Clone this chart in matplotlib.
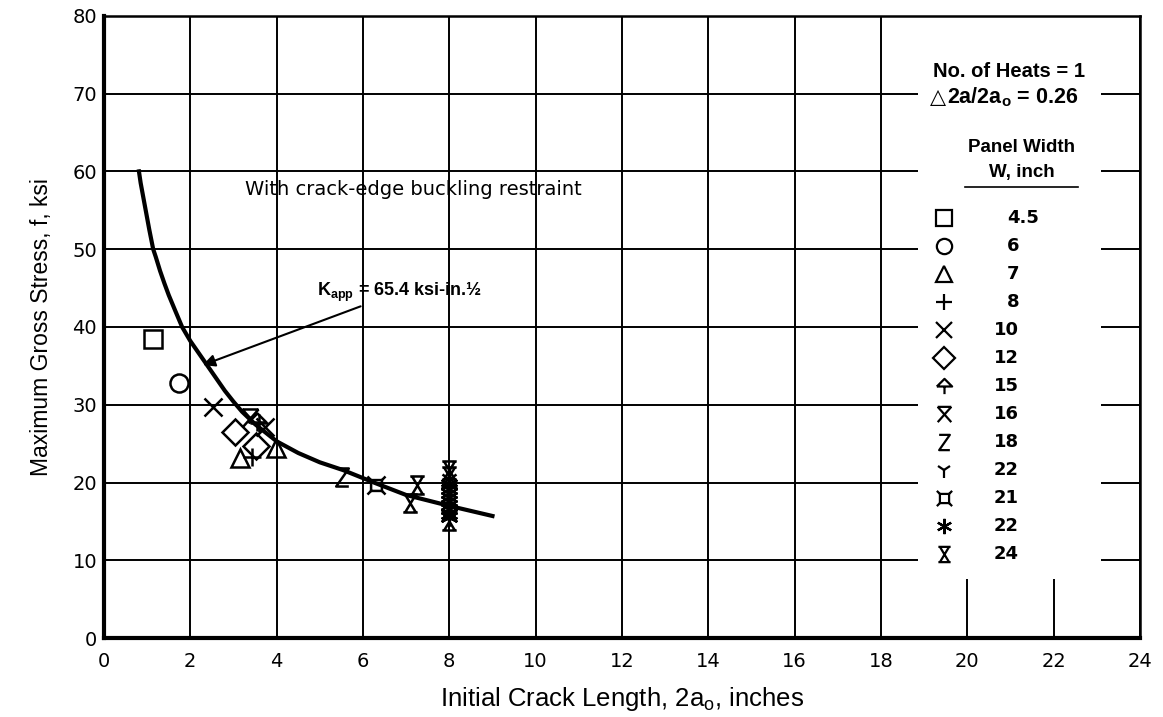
import matplotlib
matplotlib.use("Agg")
import matplotlib.pyplot as plt
from matplotlib.path import Path
from matplotlib.patches import Rectangle

plt.rcParams['font.family'] = ['Liberation Sans', 'DejaVu Sans']
plt.rcParams['mathtext.fontset'] = 'custom'
plt.rcParams['mathtext.rm'] = 'Liberation Sans'
plt.rcParams['mathtext.bf'] = 'Liberation Sans:bold'

# K_app curve
curve_x = [0.81, 0.85, 0.9, 0.95, 1.0, 1.05, 1.14, 1.2, 1.3, 1.4, 1.5, 1.65, 1.81, 2.0, 2.2,
           2.4, 2.6, 2.8, 3.0, 3.2, 3.5, 4.0, 4.5, 5.0, 5.54, 6.3, 7.0, 8.0, 9.0]
curve_y = [60, 58.5, 57, 55.5, 54, 52.5, 50, 49, 47.2, 45.6, 44.1, 42.1, 40, 38.2, 36.6,
           35, 33.4, 31.8, 30.4, 29.1, 27.5, 25.3, 23.8, 22.6, 21.6, 19.9, 18.4, 17.0, 15.7]

# test points by panel width
w45_x, w45_y = [1.13], [38.4]
w6_x, w6_y = [1.74], [32.8]
w7_x, w7_y = [3.15, 3.98], [23.2, 24.5]
w8_x, w8_y = [3.42, 3.6], [23.3, 27.6]
w10_x, w10_y = [2.52, 3.73], [29.7, 27.2]
w12_x, w12_y = [3.03, 3.52], [26.5, 24.7]
w15_x, w15_y = [3.55], [27.8]
w16_x, w16_y = [3.38], [28.3]
w18_x, w18_y = [5.51], [20.7]
w22a_x, w22a_y = [8.0], [20.4]
w21_x, w21_y = [6.3], [19.7]
w22b_x = [8.0, 8.0, 8.0, 8.0, 8.0, 8.0, 8.0, 8.0, 8.0]
w22b_y = [19.8, 19.2, 18.7, 18.2, 17.6, 17.1, 16.6, 16.0, 15.6]
w24_x, w24_y = [7.25, 7.09, 8.0, 8.0, 8.0], [19.7, 17.4, 21.6, 20.8, 15.0]

widths = ['4.5', '6', '7', '8', '10', '12', '15', '16', '18', '22', '21', '22', '24']


def mk(segs):
    verts, codes = [], []
    for s in segs:
        verts += s
        codes += [Path.MOVETO] + [Path.LINETO] * (len(s) - 1)
    return Path(verts, codes)


m15 = mk([[(-0.9, 0.0), (0, 0.9), (0.9, 0.0), (-0.9, 0.0)], [(0, 0.0), (0, -0.9)]])
m16 = mk([[(-0.8, 0.9), (0.8, 0.9)], [(-0.8, 0.9), (0.8, -0.9)], [(0.8, 0.9), (-0.8, -0.9)]])
m18 = mk([[(-0.7, 1), (0.7, 1), (-0.7, -1), (0.7, -1)]])
m21 = mk([[(-0.6, -0.6), (0.6, -0.6), (0.6, 0.6), (-0.6, 0.6), (-0.6, -0.6)],
          [(0.6, 0.6), (1, 1)], [(-0.6, 0.6), (-1, 1)],
          [(-0.6, -0.6), (-1, -1)], [(0.6, -0.6), (1, -1)]])
m24 = mk([[(-0.8, 1), (0.8, 1)], [(-0.8, -1), (0.8, -1)],
          [(-0.6, 1), (0.6, -1)], [(0.6, 1), (-0.6, -1)]])

series = [
    (w45_x, w45_y, 's'), (w6_x, w6_y, 'o'), (w7_x, w7_y, '^'), (w8_x, w8_y, '+'),
    (w10_x, w10_y, 'x'), (w12_x, w12_y, 'D'), (w15_x, w15_y, m15), (w16_x, w16_y, m16),
    (w18_x, w18_y, m18), (w22a_x, w22a_y, '1'), (w21_x, w21_y, m21),
    (w22b_x, w22b_y, (6, 2, 0)), (w24_x, w24_y, m24),
]

fig = plt.figure(figsize=(11.63, 7.17), dpi=100)
ax = fig.add_axes([0.0894, 0.110, 0.8908, 0.868])

ax.set_xlim(0, 24)
ax.set_ylim(0, 80)
ax.set_xticks(range(0, 25, 2))
ax.set_yticks(range(0, 81, 10))
ax.grid(True, color='black', lw=1.4)
ax.set_axisbelow(True)
ax.tick_params(length=0, labelsize=14, pad=5)
ax.tick_params(axis='x', pad=10)
for lab in ax.get_xticklabels() + ax.get_yticklabels():
    lab.set_fontfamily('DejaVu Sans')
for s in ['left', 'bottom']:
    ax.spines[s].set_linewidth(3)
for s in ['top', 'right']:
    ax.spines[s].set_linewidth(1.8)

# white box for the key, hides the grid behind it
ax.add_patch(Rectangle((18.86, 7.6), 4.24, 72.2, facecolor='white', edgecolor='none', zorder=1.5))

ax.plot(curve_x, curve_y, color='black', lw=3, zorder=3, solid_joinstyle='round')

for xs, ys, m in series:
    ax.plot(xs, ys, ls='none', marker=m, ms=13, mfc='none', mec='black', mew=1.8, zorder=4)

ax.text(3.27, 57.7, 'With crack-edge buckling restraint', fontsize=14, family='DejaVu Sans',
        va='center', zorder=5)
ax.annotate(r'K$_\mathbf{app}$ = 65.4 ksi-in.½', xy=(2.29, 35.1), xytext=(4.93, 44.5),
            fontsize=13, fontweight='bold', va='center', zorder=5,
            arrowprops=dict(arrowstyle='-|>', color='black', lw=1.5, mutation_scale=18,
                            shrinkA=0, shrinkB=0))

# key
ax.text(20.97, 72.8, 'No. of Heats = 1', fontsize=14.5, fontweight='bold', ha='center', va='center', zorder=5)
ax.text(19.13, 69.5, '△', fontsize=15, family='DejaVu Sans', ha='left', va='center', zorder=5)
ax.text(19.52, 69.5, r'2a/2a$_\mathbf{o}$ = 0.26', fontsize=15.5, fontweight='bold', ha='left', va='center', zorder=5)
ax.text(21.26, 63.1, 'Panel Width', fontsize=13.5, fontweight='bold', ha='center', va='center', zorder=5)
ax.text(21.26, 59.8, 'W, inch', fontsize=13.5, fontweight='bold', ha='center', va='center', zorder=5)
ax.plot([19.94, 22.56], [58.0, 58.0], color='black', lw=1.2, zorder=5)

row_y = 54.05
for (xs, ys, m), w in zip(series, widths):
    ax.plot([19.46], [row_y], ls='none', marker=m, ms=11, mfc='none', mec='black', mew=1.6, zorder=5)
    if '.' in w:
        ax.text(20.92, row_y, w, fontsize=13, fontweight='bold', family='DejaVu Sans',
                ha='left', va='center', zorder=5)
    else:
        ax.text(21.2, row_y, w, fontsize=13, fontweight='bold', family='DejaVu Sans',
                ha='right', va='center', zorder=5)
    row_y -= 3.6

ax.set_xlabel(r'Initial Crack Length, 2a$_\mathregular{o}$, inches', fontsize=18.5, labelpad=10)
ax.set_ylabel('Maximum Gross Stress, f, ksi', fontsize=16.5, labelpad=14)

fig.savefig('out.png', dpi=100)
